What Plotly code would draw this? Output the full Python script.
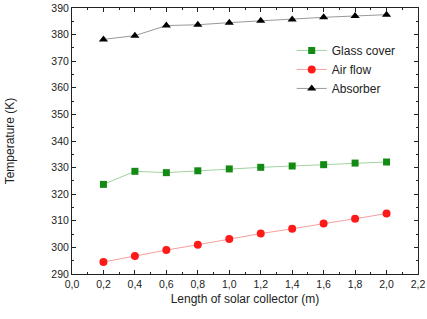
import plotly.graph_objects as go

x_len = [0.2, 0.4, 0.6, 0.8, 1.0, 1.2, 1.4, 1.6, 1.8, 2.0]
glass_cover = [323.7, 328.6, 328.1, 328.8, 329.5, 330.1, 330.6, 331.1, 331.7, 332.1]
air_flow = [294.5, 296.8, 299.0, 301.0, 303.2, 305.2, 307.0, 309.0, 310.8, 312.7]
absorber = [378.2, 379.6, 383.4, 383.7, 384.5, 385.2, 385.7, 386.5, 387.0, 387.5]

fig = go.Figure()
fig.add_trace(go.Scatter(x=x_len, y=glass_cover, name="Glass cover", mode="lines+markers",
                         line=dict(color="#9fd39f", width=1),
                         marker=dict(symbol="square", color="#138a13", size=7)))
fig.add_trace(go.Scatter(x=x_len, y=air_flow, name="Air flow", mode="lines+markers",
                         line=dict(color="#f4a0a0", width=1),
                         marker=dict(symbol="circle", color="#ff1a1a", size=8)))
fig.add_trace(go.Scatter(x=x_len, y=absorber, name="Absorber", mode="lines+markers",
                         line=dict(color="#999999", width=1),
                         marker=dict(symbol="triangle-up", color="black", size=8)))

font = dict(family="Liberation Sans, Arial, sans-serif", size=10.5, color="#222222")
fig.update_layout(
    width=427, height=319,
    margin=dict(l=72, r=9, t=8, b=45, autoexpand=False),
    paper_bgcolor="white", plot_bgcolor="white",
    font=font,
    separators=", ",
    showlegend=True,
    legend=dict(x=0.635, y=0.895, xanchor="left", yanchor="top",
                bgcolor="rgba(0,0,0,0)", font=dict(size=12), itemwidth=30,
                tracegroupgap=0),
    xaxis=dict(range=[0, 2.2], dtick=0.2, tickformat=".1f", automargin=False,
               showline=True, linecolor="#222", linewidth=1, mirror="ticks",
               ticks="inside", ticklen=4, tickcolor="#222", showgrid=False, zeroline=False,
               minor=dict(dtick=0.1, ticks="inside", ticklen=2, tickcolor="#222"),
               title=dict(text="Length of solar collector (m)", font=dict(size=12), standoff=6)),
    yaxis=dict(range=[290, 390], dtick=10, automargin=False,
               showline=True, linecolor="#222", linewidth=1, mirror="ticks",
               ticks="inside", ticklen=4, tickcolor="#222", showgrid=False, zeroline=False,
               minor=dict(dtick=5, ticks="inside", ticklen=2, tickcolor="#222"),
               title=dict(text="Temperature (K)", font=dict(size=12), standoff=34)),
)
fig.write_html("out.html", config={"displayModeBar": False},
               post_script="document.body.style.margin='0';")
